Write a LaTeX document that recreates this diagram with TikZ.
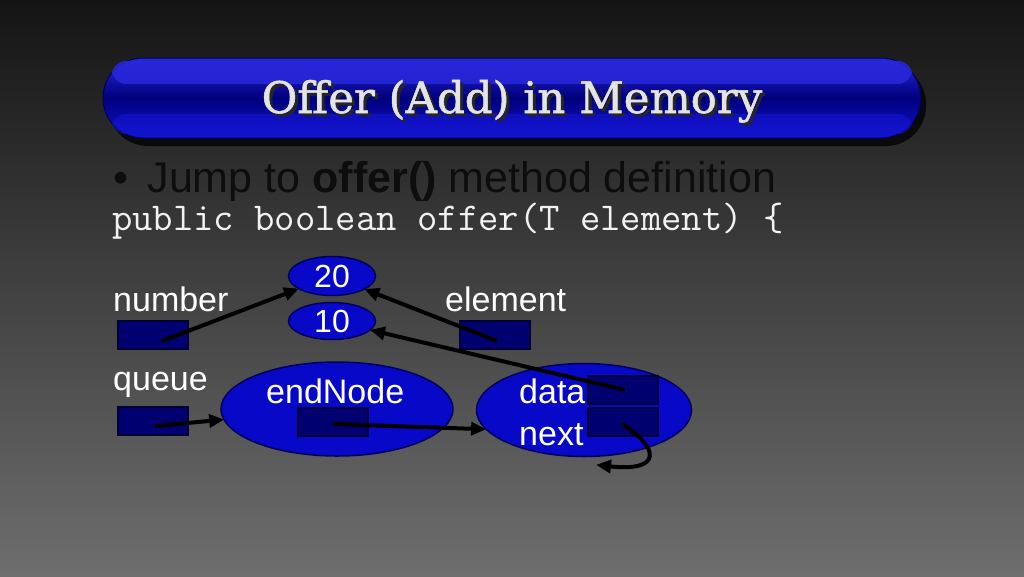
\documentclass[tikz,border=0pt]{standalone}
\usepackage{fontspec}
\setmainfont{Liberation Sans}
\newfontfamily\titlefont[FakeBold=1.2]{DejaVu Serif}
\usetikzlibrary{arrows.meta,shapes.geometric,calc}
\definecolor{bgtop}{RGB}{20,20,20}
\definecolor{bgbot}{RGB}{110,110,110}
\definecolor{ellfill}{RGB}{8,8,200}
\definecolor{ellline}{RGB}{0,0,90}
\definecolor{boxfill}{RGB}{0,0,112}
\definecolor{boxline}{RGB}{0,0,50}
\definecolor{bartop}{RGB}{40,40,220}
\definecolor{barmid}{RGB}{0,0,125}
\definecolor{barbot}{RGB}{20,20,210}
\definecolor{titletext}{RGB}{228,228,228}
\tikzset{
  lbl/.style={anchor=base west, text=white, inner sep=0pt, font=\fontsize{34}{34}\selectfont},
  valell/.style={ellipse, draw=ellline, line width=1.5pt, fill=ellfill, text=white, inner sep=0pt, font=\fontsize{32}{32}\selectfont},
  bigell/.style={ellipse, draw=ellline, line width=1.5pt, fill=ellfill, inner sep=0pt},
  membox/.style={rectangle, draw=boxline, line width=1.5pt, fill=boxfill, minimum width=70pt, minimum height=28pt, inner sep=0pt},
  ptr/.style={line width=4pt, -{Triangle[length=15pt,width=13pt]}, shorten >=-1pt}
}
\begin{document}
\begin{tikzpicture}[x=1pt,y=-1pt]
\shade[top color=bgtop, bottom color=bgbot] (0,0) rectangle (1024,576);
\useasboundingbox (0,0) rectangle (1024,576);
% title bar
\fill[black, opacity=0.75, rounded corners=40pt] (108,64) rectangle (926,146);
\shade[top color=bartop, bottom color=barbot, middle color=barmid, rounded corners=40pt, draw=ellline, line width=1pt] (103,58) rectangle (921,138);
\fill[bartop, opacity=0.85, rounded corners=14pt] (112,61) rectangle (912,84);
\fill[barbot, opacity=0.6, rounded corners=14pt] (112,114) rectangle (912,134);
\node[anchor=base, inner sep=0pt, text=titletext, font=\titlefont\fontsize{43.5}{43.5}\selectfont] (title) at (512,113)
  {\rlap{\hspace{3pt}\raisebox{-3pt}{\textcolor{black!85}{Offer (Add) in Memory}}}Offer (Add) in Memory};
% bullet and code
\node[anchor=base west, inner sep=0pt, text=black!95, font=\fontsize{43}{43}\selectfont] (bullet) at (113,192) {\textbullet\hspace{0.45em}Jump to \textbf{offer()} method definition};
\node[anchor=base west, inner sep=0pt, text=white!95!black, font=\ttfamily\fontsize{39.5}{39.5}\selectfont] (code) at (112,230) {public boolean offer(T element) \{};
% labels
\node[lbl] (lnumber) at (113,311) {number};
\node[lbl] (lelement) at (445,311) {element};
\node[lbl] (lqueue) at (113,390) {queue};
% value ellipses
\node[valell, minimum width=87pt, minimum height=39pt] (v20) at (332,276) {20};
\node[valell, minimum width=87pt, minimum height=37pt] (v10) at (332,321) {10};
% boxes
\node[membox] (nbox) at (153,335) {};
\node[membox] (ebox) at (495,335) {};
\node[membox] (qbox) at (153,421) {};
% big ellipses
\node[bigell, minimum width=232pt, minimum height=94pt] (endn) at (337,409) {};
\node[bigell, minimum width=215pt, minimum height=93pt] (dnode) at (584,410) {};
\node[lbl] (lend) at (266,403) {endNode};
\node[lbl] (ldata) at (519,403) {data};
\node[lbl] (lnext) at (519,445) {next};
\node[membox] (ebx) at (333,422) {};
\node[membox] (dbox) at (623,390) {};
\node[membox] (xbox) at (623,422) {};
% pointer start points
\coordinate (ns) at (162,341);
\coordinate (es) at (497,341);
\coordinate (qs) at (155,426);
\coordinate (ens) at (333,424);
\coordinate (ds) at (625,390);
\coordinate (xs) at (622,424);
\coordinate (xe) at (597,465);
% pointers
\draw[ptr] (ns) -- (v20);
\draw[ptr] (es) -- (v20.-22);
\draw[ptr] (ds) -- (v10);
\draw[ptr] (qs) -- (endn);
\draw[ptr] (ens) -- (dnode.191);
\draw[ptr] (xs) .. controls (660,448) and (662,472) .. (xe);
\end{tikzpicture}
\end{document}
